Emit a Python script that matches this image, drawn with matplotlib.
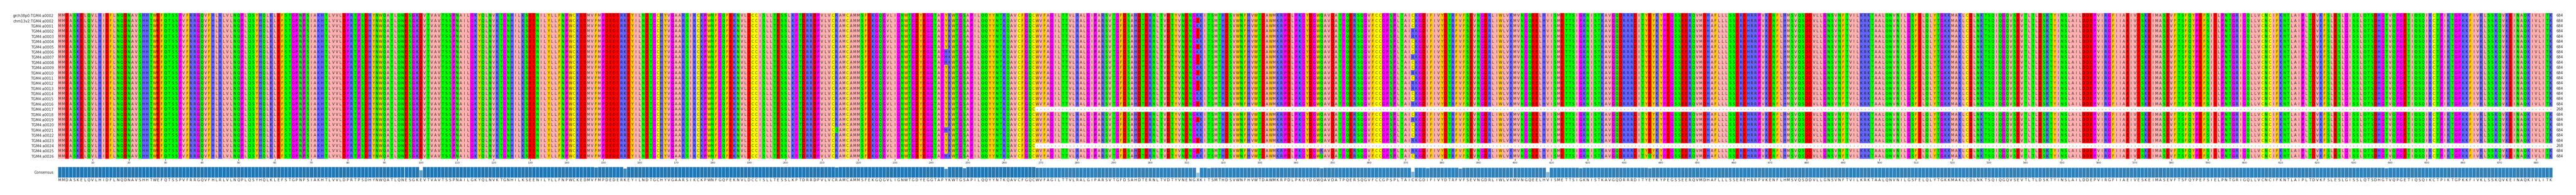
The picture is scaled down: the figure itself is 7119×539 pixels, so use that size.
import numpy as np
import matplotlib
matplotlib.use("Agg")
import matplotlib.pyplot as plt
from matplotlib.colors import ListedColormap

WIDTH, HEIGHT = 7119, 539

CONSENSUS = (
    "MMDASKELQVLHIDFLNQDNAVSHHTWEFQTSSPVFRRGQVFHLRLVLNQPLQSYHQLKLEFSTGPNPSI"
    "AKHTLVVLDPRTPSDHYNWQATLQNESGKEVTVAVTSSPNAILGKYQLNVKTGNHILKSEENILYLLFNP"
    "WCKEDMVFMPDEDERKEYILNDTGCHYVGAARSIKCKPWNFGQFEKNVLDCCISLLTESSLKPTDRRDPV"
    "LVCRAMCAMMSFEKGQGVLIGNWTGDYEGGTAPYKWTGSAPILQQYYNTKQAVCFGQCWVFAGILTTVLR"
    "ALGIPARSVTGFDSAHDTERNLTVDTYVNENGXKITSMTHDSVWNFHVWTDAWMKRPDLPKGYDGWQAVD"
    "ATPQERSQGVFCCGPSPLTAICKGDIFIVYDTRFVFSEVNGDRLIWLVKMVNGQEELHVISMETTSIGKN"
    "ISTKAVGQDRRRDITYEYKYPEGSSEERQVMDHAFLLLSSEREHRRPVKENFLHMSVQSDDVLLGNSVNF"
    "TVILKRKTAALQNVNILGSFELQLYTGKKMAKLCDLNKTSQIQGQVSEVTLTLDSKTYINSLAILDDEPV"
    "IRGFIIAEIVESKEIMASEVFTSFQYPEFSIELPNTGRIGQLLVCNCIFKNTLAIPLTDVKFSLESLGIS"
    "SLQTSDHGTVQPGETIQSQIKCTPIKTGPKKFIVKLSSKQVKEINAQKIVLITK"
)

NAMES = ["grch38p0:TGM4:a0002", "chm13v2:TGM4:a0002"] + [f"TGM4:a{i:04d}" for i in range(1, 27)]

# rows (1-based) that stop early, and where
SHORT_ROWS = [19, 26]
SHORT_LEN = 268

# position, residue, rows (1-based) that differ from the consensus
POS_313_K = [1, 3, 6, 8, 11, 13, 16, 17, 20, 22, 23, 24, 28]
POS_313_E = [2, 4, 5, 7, 9, 10, 12, 14, 15, 18, 21, 25, 27]
POS_372_R = [4, 5, 9, 12, 14, 15, 18, 21, 25, 27]
POS_409_I = [1, 3, 6, 8, 11, 13, 16, 20, 22, 24, 28]
POS_244_H = [8, 9, 10, 23, 28]
POS_156_R = [3, 13, 24, 28]
POS_100_D = [1, 5, 6, 10, 11, 14, 17, 20]
POS_249_T = [6, 19, 26]
POS_385_I = [9, 25]

VARIANTS = [
    (100, "D", POS_100_D), (148, "Y", [12]), (156, "R", POS_156_R),
    (214, "Q", [23]), (244, "H", POS_244_H), (249, "T", POS_249_T),
    (313, "K", POS_313_K), (313, "E", POS_313_E), (316, "S", [15]),
    (347, "K", [27]), (372, "R", POS_372_R), (376, "V", [7]),
    (385, "I", POS_385_I), (409, "I", POS_409_I), (418, "P", [2]),
    (437, "Q", [28]), (639, "S", [10]),
]

# Zappo colours
GROUPS = {
    "AILMV": "#FFAFAF", "FWY": "#FFC800", "HKR": "#6464FF", "DE": "#FF0000",
    "NQST": "#00FF00", "GP": "#FF00FF", "C": "#FFFF00", "-X": "#FFFFFF",
}

n_rows, n_cols = len(NAMES), len(CONSENSUS)
seqs = [list(CONSENSUS) for _ in NAMES]
for pos, res, rows in VARIANTS:
    for r in rows:
        seqs[r - 1][pos - 1] = res
for r in SHORT_ROWS:
    seqs[r - 1][SHORT_LEN:] = "-" * (n_cols - SHORT_LEN)

residues = "".join(GROUPS.keys())
colors = [c for k, c in GROUPS.items() for _ in k]
index = {aa: i for i, aa in enumerate(residues)}
grid = np.array([[index[aa] for aa in s] for s in seqs])

identity = []
for j in range(n_cols):
    col = [s[j] for s in seqs if s[j] != "-"]
    identity.append(max(col.count(aa) for aa in set(col)) / n_rows * 100)


def px_axes(fig, left, top, right, bottom):
    return fig.add_axes([left / WIDTH, 1 - bottom / HEIGHT, (right - left) / WIDTH, (bottom - top) / HEIGHT])


fig = plt.figure(figsize=(WIDTH / 100, HEIGHT / 100), dpi=100)

# alignment
ax = px_axes(fig, 160, 36, 7054, 439)
ax.imshow(grid, cmap=ListedColormap(colors), vmin=0, vmax=len(colors) - 1, aspect="auto",
          interpolation="nearest", extent=(0, n_cols, n_rows, 0))
for i, s in enumerate(seqs):
    for j, aa in enumerate(s):
        ax.text(j + 0.5, i + 0.5, aa, ha="center", va="center", size=7.1, color="black", alpha=0.8)
    count = n_cols - s.count("-")
    ax.text(n_cols + 1.05, i + 0.5, str(count), ha="left", va="center", size=7.1, color="#222222")
for s in ax.spines.values():
    s.set_visible(False)
ax.set_yticks(np.arange(n_rows) + 0.5, NAMES, size=7.1, color="#222222")
ax.tick_params(axis="y", length=0, pad=8.5)
ticks = np.arange(10, n_cols + 1, 10)
ax.set_xticks(ticks - 0.5, ticks, size=5.4)
ax.tick_params(axis="x", length=3.5, width=0.7, pad=2, labelcolor="#222222")

# consensus bars
ax2 = px_axes(fig, 160, 461, 7054, 491)
ax2.bar(np.arange(n_cols) + 0.5, identity, width=1, color="#1f77b4", edgecolor="#d5e5f0", linewidth=0.7)
for bar, val in zip(ax2.patches, identity):
    bar.set_facecolor((0.122, 0.467, 0.706, val / 100))
ax2.set_xlim(0, n_cols)
ax2.set_ylim(0, 100)
for s in ax2.spines.values():
    s.set_visible(False)
ax2.set_yticks([50], ["Consensus"], size=7.1, color="#222222")
ax2.tick_params(axis="y", length=0, pad=8.5)
ax2.set_xticks(np.arange(n_cols) + 0.5, list(CONSENSUS), size=7.1, color="#222222")
ax2.tick_params(axis="x", length=0, pad=1.5)

fig.savefig("out.png", dpi=100, facecolor="white")
